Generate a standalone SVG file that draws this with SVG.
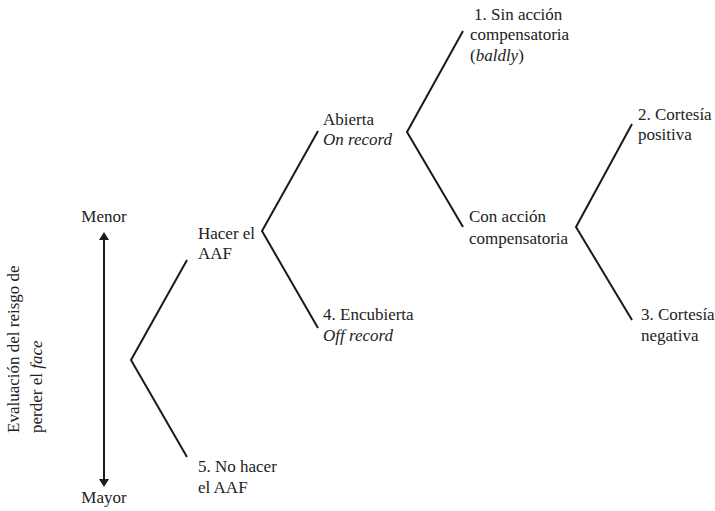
<svg xmlns="http://www.w3.org/2000/svg" width="715" height="511" viewBox="0 0 715 511">
  <style>
    text { font-family: "Liberation Serif", "DejaVu Serif", serif; font-size: 17px; fill: #222; }
    .it { font-style: italic; }
    .mid { text-anchor: middle; }
    .branch { fill: none; stroke: #1a1a1a; stroke-width: 2; stroke-linejoin: miter; }
  </style>
  <defs>
    <marker id="head" viewBox="0 0 10 10" refX="5" refY="5" markerWidth="5" markerHeight="5" orient="auto-start-reverse" markerUnits="userSpaceOnUse">
      <path d="M0,0 L10,5 L0,10 z" fill="#1a1a1a"/>
    </marker>
  </defs>
  <rect width="715" height="511" fill="#ffffff"/>

  <!-- risk scale -->
  <g id="scale">
    <line x1="104" y1="238" x2="104" y2="481" stroke="#1a1a1a" stroke-width="2"/>
    <path d="M104,232 L99,240 L109,240 z M104,487 L99,479 L109,479 z" fill="#1a1a1a"/>
    <text class="mid" x="104" y="222">Menor</text>
    <text class="mid" x="104" y="503">Mayor</text>
  </g>

  <g id="axis-label">
    <text transform="translate(19,433) rotate(-90)">Evaluación del reisgo de</text>
    <text transform="translate(42,433) rotate(-90)">perder el <tspan class="it">face</tspan></text>
  </g>

  <!-- connectors -->
  <g id="connectors">
    <polyline class="branch" points="187,260 131,360 187,457"/>
    <polyline class="branch" points="318,131 262,231 318,328"/>
    <polyline class="branch" points="463,31 407,132 463,227"/>
    <polyline class="branch" points="632,124 576,227 632,320"/>
  </g>

  <g id="hacer">
    <text x="198" y="239">Hacer el</text>
    <text x="198" y="259">AAF</text>
  </g>
  <g id="no-hacer">
    <text x="198" y="472">5. No hacer</text>
    <text x="198" y="493">el AAF</text>
  </g>
  <g id="abierta">
    <text x="323" y="125">Abierta</text>
    <text class="it" x="323" y="145">On record</text>
  </g>
  <g id="encubierta">
    <text x="323" y="320">4. Encubierta</text>
    <text class="it" x="323" y="341">Off record</text>
  </g>
  <g id="sin-accion">
    <text x="474" y="20">1. Sin acción</text>
    <text x="470" y="40">compensatoria</text>
    <text x="470" y="61">(<tspan class="it">baldly</tspan>)</text>
  </g>
  <g id="con-accion">
    <text x="469" y="222">Con acción</text>
    <text x="469" y="244">compensatoria</text>
  </g>
  <g id="positiva">
    <text x="638" y="120">2. Cortesía</text>
    <text x="638" y="140">positiva</text>
  </g>
  <g id="negativa">
    <text x="641" y="320">3. Cortesía</text>
    <text x="641" y="341">negativa</text>
  </g>
</svg>
